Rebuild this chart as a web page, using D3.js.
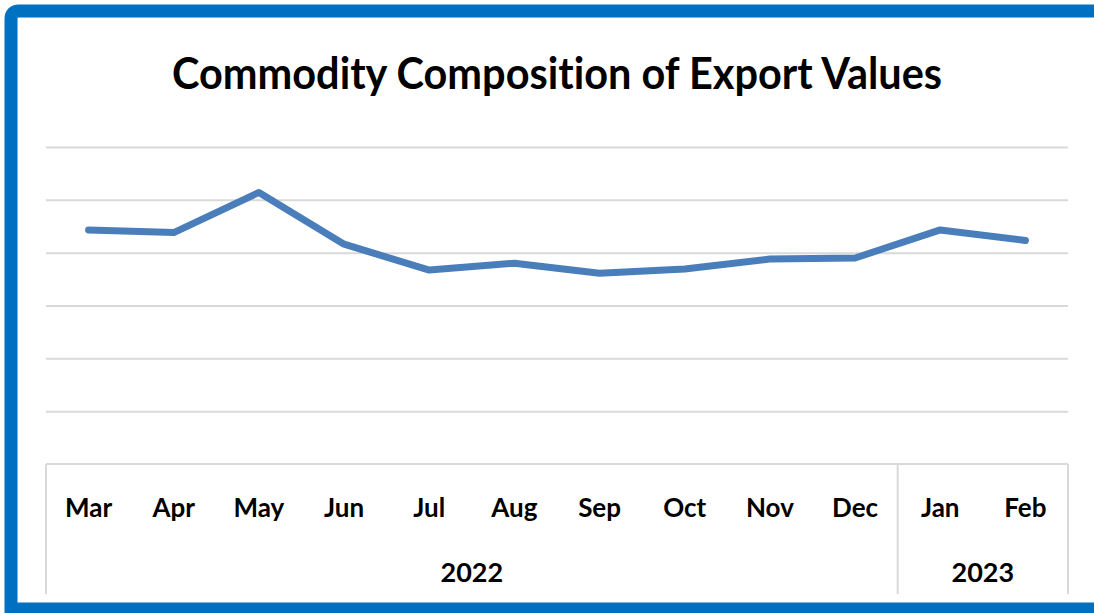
<!DOCTYPE html>
<html>
<head>
<meta charset="utf-8">
<script src="https://cdn.jsdelivr.net/npm/d3@7"></script>
<style>
  html, body { margin: 0; padding: 0; background: #ffffff; overflow: hidden; }
  svg { display: block; }
  text { font-variant-ligatures: none; font-feature-settings: "liga" 0; }
</style>
</head>
<body>
<svg id="chart" width="1094" height="613"></svg>
<script>
const title = "Commodity Composition of Export Values";
const months = ["Mar", "Apr", "May", "Jun", "Jul", "Aug", "Sep", "Oct", "Nov", "Dec", "Jan", "Feb"];
const values = [44.3, 43.8, 51.4, 41.6, 36.7, 38.0, 36.1, 36.9, 38.8, 39.0, 44.3, 42.3];
const years = ["2022", "2023"];
const yearCounts = [10, 2];
const yTicks = [10, 20, 30, 40, 50, 60];

const svg = d3.select("#chart");
const W = 1094, H = 613;
const plot = { left: 46, right: 1068, top: 147, bottom: 464 };
const gridColor = "#d9d9d9";
const font = "Lato, 'Noto Sans', sans-serif";

// frame border (left, top, bottom; open on the right)
svg.append("path")
  .attr("d", "M1200,11 L19,11 Q11,11 11,19 L11,609 L1200,609")
  .attr("fill", "none")
  .attr("stroke", "#0070c0")
  .attr("stroke-width", 13);

// title
svg.append("text")
  .attr("x", 557).attr("y", 89)
  .attr("text-anchor", "middle")
  .attr("font-family", font)
  .attr("font-weight", 700)
  .attr("font-size", 44)
  .attr("textLength", 770)
  .attr("lengthAdjust", "spacingAndGlyphs")
  .attr("fill", "#000")
  .text(title);

const x = d3.scaleBand().domain(months).range([plot.left, plot.right]);
const y = d3.scaleLinear().domain([0, 60]).range([plot.bottom, plot.top]);

// gridlines
const grid = svg.append("g")
  .attr("transform", `translate(${plot.left},0)`)
  .call(d3.axisLeft(y).tickValues(yTicks).tickSize(-(plot.right - plot.left)).tickFormat(""));
grid.select(".domain").remove();
grid.selectAll(".tick line").attr("stroke", gridColor).attr("stroke-width", 2);

// category axis box
const boxBottom = 594;
svg.append("line")
  .attr("x1", plot.left).attr("x2", plot.right)
  .attr("y1", plot.bottom).attr("y2", plot.bottom)
  .attr("stroke", gridColor).attr("stroke-width", 2);

// year separators
let idx = 0;
const bounds = [plot.left];
yearCounts.forEach(c => { idx += c; bounds.push(x(months[idx - 1]) + x.bandwidth()); });
svg.selectAll("line.sep").data(bounds).join("line")
  .attr("class", "sep")
  .attr("x1", d => d).attr("x2", d => d)
  .attr("y1", plot.bottom).attr("y2", boxBottom)
  .attr("stroke", gridColor).attr("stroke-width", 2);

// month labels
const xAxis = svg.append("g")
  .attr("transform", `translate(0,${plot.bottom})`)
  .call(d3.axisBottom(x).tickSize(0));
xAxis.select(".domain").remove();
xAxis.selectAll(".tick text")
  .attr("y", 53).attr("dy", null)
  .attr("font-family", font)
  .attr("font-weight", 700)
  .attr("font-size", 26)
  .attr("fill", "#000");

// year labels
svg.selectAll("text.year").data(years).join("text")
  .attr("class", "year")
  .attr("x", (d, i) => (bounds[i] + bounds[i + 1]) / 2)
  .attr("y", 582)
  .attr("text-anchor", "middle")
  .attr("font-family", font)
  .attr("font-weight", 700)
  .attr("font-size", 27)
  .attr("fill", "#000")
  .text(d => d);

// line
const line = d3.line()
  .x((d, i) => x(months[i]) + x.bandwidth() / 2)
  .y(d => y(d));
svg.append("path")
  .datum(values)
  .attr("d", line)
  .attr("fill", "none")
  .attr("stroke", "#4a7ebb")
  .attr("stroke-width", 7)
  .attr("stroke-linejoin", "round")
  .attr("stroke-linecap", "round");
</script>
</body>
</html>
